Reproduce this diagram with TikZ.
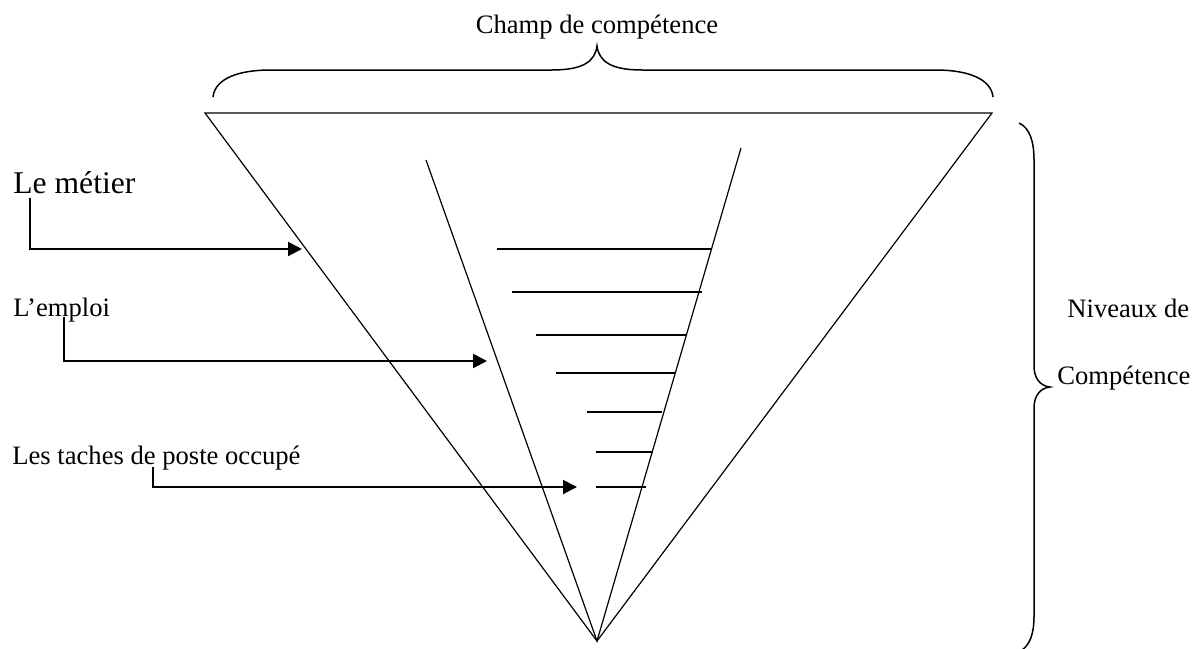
\documentclass[tikz,border=0pt]{standalone}
\usepackage{fontspec}
\setmainfont{Liberation Serif}
\usetikzlibrary{arrows.meta}

\begin{document}
\begin{tikzpicture}[
        x=0.5pt, y=-0.5pt,
        label/.style={anchor=base west, inner sep=0pt, font=\fontsize{13.3}{16}\selectfont},
        biglabel/.style={label, font=\fontsize{15.8}{19}\selectfont},
        edge/.style={line width=0.6pt},
        brace/.style={line width=0.75pt},
        arrow/.style={line width=1pt, -{Triangle[length=7pt, width=7pt]}},
    ]
        \useasboundingbox (0,0) rectangle (1193,648);

        % Outer triangle
        \coordinate (topleft) at (205,113);
        \coordinate (topright) at (992,113);
        \coordinate (apex) at (597,641);
        \draw[edge] (topleft) -- (topright) -- (apex) -- cycle;

        % Inner V
        \coordinate (innerleft) at (426,160);
        \coordinate (innerright) at (741,148);
        \draw[edge] (innerleft) -- (apex) -- (innerright);

        % Levels
        \foreach \y/\xa/\xb in {249/497/712, 292/512/702, 335/536/686, 373/556/675, 412/587/662, 452/596/653, 487/596/646}
            \draw[edge] (\xa,\y) -- (\xb,\y);

        % Top brace
        \node[label, anchor=base] (champ) at (597,33) {Champ de compétence};
        \draw[brace] (213,97) .. controls (215,78) and (240,70) .. (270,70) -- (552,70)
            .. controls (582,70) and (595,62) .. (597,46)
            .. controls (599,62) and (612,70) .. (642,70) -- (936,70)
            .. controls (966,70) and (991,78) .. (993,97);

        % Right brace
        \node[label] (niveaux) at (1067,317) {Niveaux de};
        \node[label] (competence) at (1057,384) {Compétence};
        \draw[brace] (1019,123) .. controls (1030,128) and (1034,142) .. (1034,160) -- (1034,366)
            .. controls (1034,378) and (1040,386) .. (1050,387)
            .. controls (1040,388) and (1034,396) .. (1034,408) -- (1034,616)
            .. controls (1034,634) and (1030,646) .. (1019,652);

        % Labels and arrows
        \node[biglabel] (metier) at (13,193) {Le métier};
        \coordinate (metierfoot) at (30,198);
        \coordinate (metiertip) at (302,249);
        \draw[arrow] (metierfoot) |- (metiertip);

        \node[label] (emploi) at (13,316) {L’emploi};
        \coordinate (emploifoot) at (64,317);
        \coordinate (emploitip) at (487,361);
        \draw[arrow] (emploifoot) |- (emploitip);

        \node[label] (taches) at (12,464) {Les taches de poste occupé};
        \coordinate (tachesfoot) at (153,467);
        \coordinate (tachestip) at (577,487);
        \draw[arrow] (tachesfoot) |- (tachestip);

    \end{tikzpicture}
\end{document}
